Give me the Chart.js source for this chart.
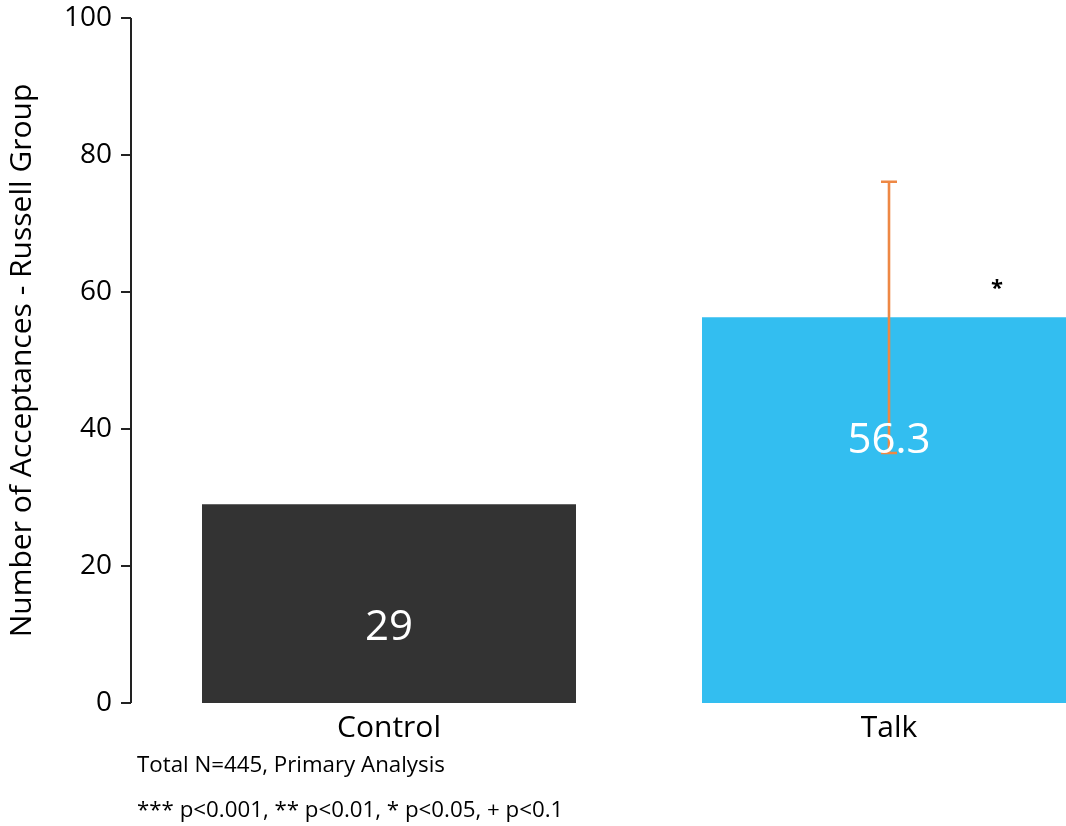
<!DOCTYPE html>
<html>
<head>
<meta charset="utf-8">
<script src="https://cdn.jsdelivr.net/npm/chart.js@4.4.1/dist/chart.umd.min.js"></script>
<style>
  html, body { margin: 0; padding: 0; overflow: hidden; background: #ffffff; }
  #wrap { position: relative; width: 1140px; height: 826px; }
</style>
</head>
<body>
<div id="wrap"><canvas id="chart"></canvas></div>
<script>
// Acceptances at Russell Group universities by arm
const categories = ['Control', 'Talk'];
const acceptances = [29, 56.3];
const errorLow = [null, 36.5];
const errorHigh = [null, 76.1];
const significance = ['', '*'];
const significanceAt = [null, 61];
const yTicks = [0, 20, 40, 60, 80, 100];
const barColors = ['#333333', '#33bef0'];
const footnotes = ['Total N=445, Primary Analysis', '*** p<0.001, ** p<0.01, * p<0.05, + p<0.1'];

const FONT = "'Open Sans', sans-serif";

// Axis line with outward tick marks, set slightly apart from the plot area
const axisLinePlugin = {
  id: 'axisLine',
  afterDraw(chart) {
    const { ctx, chartArea, scales } = chart;
    const y = scales.y;
    const x0 = chartArea.left - 8;
    ctx.save();
    ctx.strokeStyle = '#222222';
    ctx.lineWidth = 2;
    ctx.beginPath();
    ctx.moveTo(x0, y.getPixelForValue(0));
    ctx.lineTo(x0, y.getPixelForValue(100));
    y.ticks.forEach(t => {
      const py = y.getPixelForValue(t.value);
      ctx.moveTo(x0 - 10, py);
      ctx.lineTo(x0, py);
    });
    ctx.stroke();
    ctx.restore();
  }
};

// Error bars, value labels and significance markers
const annotatePlugin = {
  id: 'annotate',
  afterDatasetsDraw(chart) {
    const { ctx, scales } = chart;
    const meta = chart.getDatasetMeta(0);
    const spacing = scales.x.getPixelForValue(1) - scales.x.getPixelForValue(0);
    ctx.save();
    meta.data.forEach((bar, i) => {
      if (errorLow[i] != null && errorHigh[i] != null) {
        const lo = scales.y.getPixelForValue(errorLow[i]);
        const hi = scales.y.getPixelForValue(errorHigh[i]);
        ctx.strokeStyle = '#ee8844';
        ctx.lineWidth = 2.6;
        ctx.beginPath();
        ctx.moveTo(bar.x, lo); ctx.lineTo(bar.x, hi);
        ctx.moveTo(bar.x - 8, lo); ctx.lineTo(bar.x + 8, lo);
        ctx.moveTo(bar.x - 8, hi); ctx.lineTo(bar.x + 8, hi);
        ctx.stroke();
      }
      ctx.fillStyle = '#ffffff';
      ctx.font = '42px ' + FONT;
      ctx.textAlign = 'center';
      ctx.textBaseline = 'middle';
      ctx.fillText(String(acceptances[i]), bar.x, bar.y + 124);
      if (significance[i]) {
        ctx.fillStyle = '#000000';
        ctx.font = 'bold 22px ' + FONT;
        ctx.fillText(significance[i], bar.x + spacing * 0.216, scales.y.getPixelForValue(significanceAt[i]) + 4);
      }
    });
    ctx.restore();
  },
  afterDraw(chart) {
    const { ctx, chartArea } = chart;
    ctx.save();
    ctx.fillStyle = '#000000';
    ctx.font = '22.3px ' + FONT;
    ctx.textAlign = 'left';
    ctx.textBaseline = 'middle';
    ctx.fillText(footnotes[0], chartArea.left - 2, chartArea.bottom + 63);
    ctx.fillText(footnotes[1], chartArea.left - 2, chartArea.bottom + 108);
    ctx.restore();
  }
};

new Chart(document.getElementById('chart'), {
  type: 'bar',
  data: {
    labels: categories,
    datasets: [{
      data: acceptances,
      backgroundColor: barColors,
      borderWidth: 0,
      categoryPercentage: 1,
      barPercentage: 0.748
    }]
  },
  options: {
    responsive: true,
    maintainAspectRatio: false,
    animation: false,
    devicePixelRatio: 1,
    layout: { padding: { top: 18, right: 1, bottom: 73, left: 0 } },
    plugins: { legend: { display: false }, tooltip: { enabled: false } },
    scales: {
      x: {
        grid: { display: false, drawTicks: false },
        border: { display: false },
        ticks: { color: '#000000', font: { family: FONT, size: 30 }, padding: 7 }
      },
      y: {
        min: 0,
        max: 100,
        afterBuildTicks(scale) { scale.ticks = yTicks.map(v => ({ value: v })); },
        afterFit(scale) {
          scale.width = 139;
          scale.paddingTop = 16;
          scale.paddingBottom = 16;
        },
        grid: { display: false, drawTicks: false },
        border: { display: false },
        ticks: { color: '#000000', font: { family: FONT, size: 28 }, padding: 27 },
        title: {
          display: true,
          text: 'Number of Acceptances - Russell Group',
          color: '#000000',
          font: { family: FONT, size: 30 },
          padding: { top: 4, bottom: 0 }
        }
      }
    }
  },
  plugins: [axisLinePlugin, annotatePlugin]
});
</script>
</body>
</html>
